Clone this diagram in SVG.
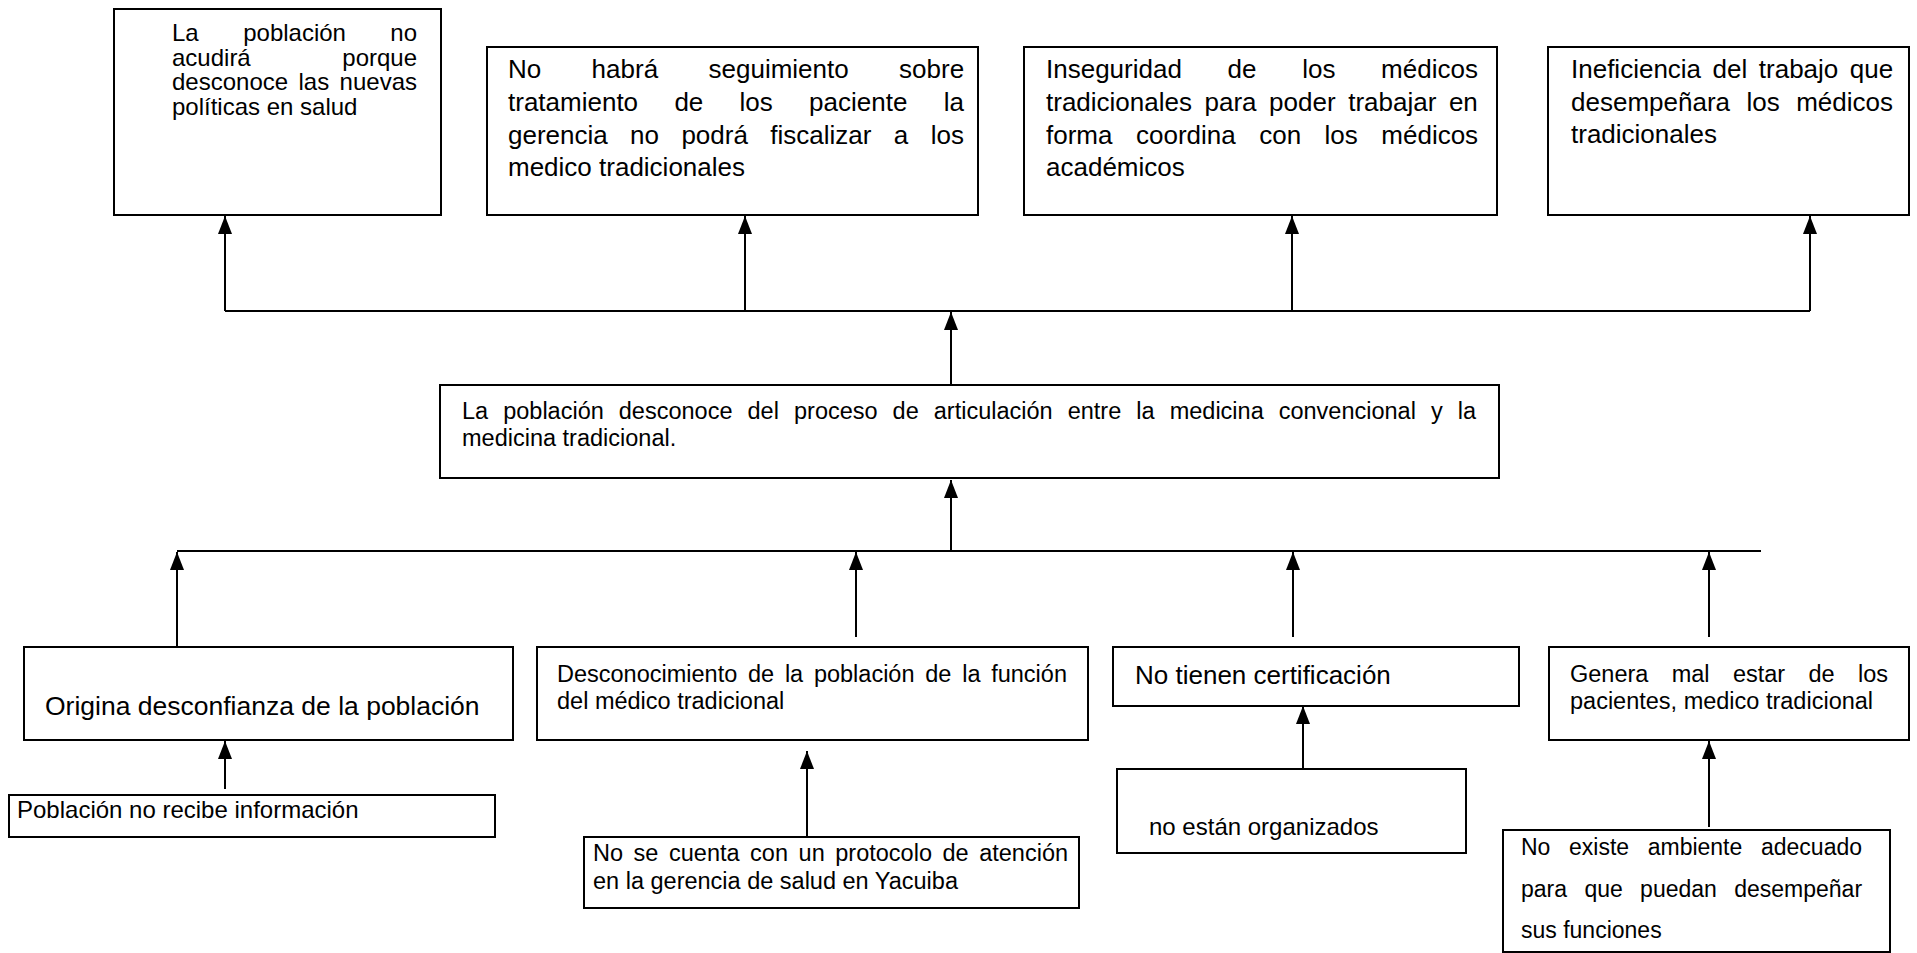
<svg xmlns="http://www.w3.org/2000/svg" width="1917" height="953" viewBox="0 0 1917 953">
<style>
.box{fill:#fff;stroke:#000;stroke-width:2}
.t{font-family:"Liberation Sans",Arial,sans-serif;fill:#000}
.c{fill:none;stroke:#000;stroke-width:2}
</style>
<defs>
<marker id="ah" viewBox="0 0 10 10" refX="10" refY="5" markerWidth="18" markerHeight="14" markerUnits="userSpaceOnUse" orient="auto" preserveAspectRatio="none">
<path d="M0,0 L10,5 L0,10 z" fill="#000"/>
</marker>
</defs>
<rect width="1917" height="953" fill="#fff"/>
<g id="connectors">
<path class="c" d="M225,311 H1810"/>
<path class="c" d="M225,311 V216" marker-end="url(#ah)"/>
<path class="c" d="M745,311 V216" marker-end="url(#ah)"/>
<path class="c" d="M1292,311 V216" marker-end="url(#ah)"/>
<path class="c" d="M1810,311 V216" marker-end="url(#ah)"/>
<path class="c" d="M951,385 V312" marker-end="url(#ah)"/>
<path class="c" d="M951,551 V480" marker-end="url(#ah)"/>
<path class="c" d="M177,551 H1761"/>
<path class="c" d="M177,647 V552" marker-end="url(#ah)"/>
<path class="c" d="M856,637 V552" marker-end="url(#ah)"/>
<path class="c" d="M1293,637 V552" marker-end="url(#ah)"/>
<path class="c" d="M1709,637 V552" marker-end="url(#ah)"/>
<path class="c" d="M225,789 V741" marker-end="url(#ah)"/>
<path class="c" d="M807,836 V751" marker-end="url(#ah)"/>
<path class="c" d="M1303,768 V706" marker-end="url(#ah)"/>
<path class="c" d="M1709,827 V741" marker-end="url(#ah)"/>
</g>
<g id="n1">
<rect class="box" x="114" y="9" width="327" height="206"/>
<text class="t" font-size="24" y="41"><tspan x="172">La</tspan><tspan x="243.2">población</tspan><tspan x="390.3">no</tspan></text>
<text class="t" font-size="24" y="65.5"><tspan x="172">acudirá</tspan><tspan x="342.3">porque</tspan></text>
<text class="t" font-size="24" y="90"><tspan x="172">desconoce</tspan><tspan x="298.5">las</tspan><tspan x="339.6">nuevas</tspan></text>
<text class="t" font-size="24" y="114.5" x="172">políticas en salud</text>
</g>
<g id="n2">
<rect class="box" x="487" y="47" width="491" height="168"/>
<text class="t" font-size="26" y="78"><tspan x="508">No</tspan><tspan x="591.6">habrá</tspan><tspan x="708.5">seguimiento</tspan><tspan x="899.1">sobre</tspan></text>
<text class="t" font-size="26" y="111"><tspan x="508">tratamiento</tspan><tspan x="674.4">de</tspan><tspan x="739.6">los</tspan><tspan x="809.1">paciente</tspan><tspan x="943.7">la</tspan></text>
<text class="t" font-size="26" y="144"><tspan x="508">gerencia</tspan><tspan x="630.1">no</tspan><tspan x="681.4">podrá</tspan><tspan x="770.3">fiscalizar</tspan><tspan x="893.8">a</tspan><tspan x="930.7">los</tspan></text>
<text class="t" font-size="26" y="176" x="508">medico tradicionales</text>
</g>
<g id="n3">
<rect class="box" x="1024" y="47" width="473" height="168"/>
<text class="t" font-size="26" y="78"><tspan x="1046">Inseguridad</tspan><tspan x="1227.6">de</tspan><tspan x="1302.2">los</tspan><tspan x="1381.1">médicos</tspan></text>
<text class="t" font-size="26" y="111"><tspan x="1046">tradicionales</tspan><tspan x="1204.5">para</tspan><tspan x="1269.1">poder</tspan><tspan x="1348.2">trabajar</tspan><tspan x="1448.9">en</tspan></text>
<text class="t" font-size="26" y="144"><tspan x="1046">forma</tspan><tspan x="1136">coordina</tspan><tspan x="1259.2">con</tspan><tspan x="1324.6">los</tspan><tspan x="1381.3">médicos</tspan></text>
<text class="t" font-size="26" y="176" x="1046">académicos</text>
</g>
<g id="n4">
<rect class="box" x="1548" y="47" width="361" height="168"/>
<text class="t" font-size="26" y="78"><tspan x="1571">Ineficiencia</tspan><tspan x="1712.6">del</tspan><tspan x="1758.8">trabajo</tspan><tspan x="1849.8">que</tspan></text>
<text class="t" font-size="26" y="111"><tspan x="1571">desempeñara</tspan><tspan x="1746.5">los</tspan><tspan x="1796.2">médicos</tspan></text>
<text class="t" font-size="26" y="143" x="1571">tradicionales</text>
</g>
<g id="n5">
<rect class="box" x="440" y="385" width="1059" height="93"/>
<text class="t" font-size="23.5" y="419"><tspan x="462">La</tspan><tspan x="503.2">población</tspan><tspan x="618.8">desconoce</tspan><tspan x="747.5">del</tspan><tspan x="794">proceso</tspan><tspan x="892.6">de</tspan><tspan x="933.8">articulación</tspan><tspan x="1067.7">entre</tspan><tspan x="1136.3">la</tspan><tspan x="1169.7">medicina</tspan><tspan x="1278.7">convencional</tspan><tspan x="1430.9">y</tspan><tspan x="1457.8">la</tspan></text>
<text class="t" font-size="23.5" y="446" x="462">medicina tradicional.</text>
</g>
<g id="n6">
<rect class="box" x="24" y="647" width="489" height="93"/>
<text class="t" font-size="26.5" y="715" x="45">Origina desconfianza de la población</text>
</g>
<g id="n7">
<rect class="box" x="537" y="647" width="551" height="93"/>
<text class="t" font-size="23.5" y="682"><tspan x="557">Desconocimiento</tspan><tspan x="748">de</tspan><tspan x="784.9">la</tspan><tspan x="813.9">población</tspan><tspan x="925.3">de</tspan><tspan x="962.2">la</tspan><tspan x="991.2">función</tspan></text>
<text class="t" font-size="23.5" y="709" x="557">del médico tradicional</text>
</g>
<g id="n8">
<rect class="box" x="1113" y="647" width="406" height="59"/>
<text class="t" font-size="26" y="684" x="1135">No tienen certificación</text>
</g>
<g id="n9">
<rect class="box" x="1549" y="647" width="360" height="93"/>
<text class="t" font-size="23.5" y="682"><tspan x="1570">Genera</tspan><tspan x="1671.7">mal</tspan><tspan x="1732.9">estar</tspan><tspan x="1808.5">de</tspan><tspan x="1858">los</tspan></text>
<text class="t" font-size="23.5" y="709" x="1570">pacientes, medico tradicional</text>
</g>
<g id="n10">
<rect class="box" x="9" y="795" width="486" height="42"/>
<text class="t" font-size="24" y="818" x="17">Población no recibe información</text>
</g>
<g id="n11">
<rect class="box" x="584" y="837" width="495" height="71"/>
<text class="t" font-size="23.5" y="861"><tspan x="593">No</tspan><tspan x="633.6">se</tspan><tspan x="669">cuenta</tspan><tspan x="750.1">con</tspan><tspan x="798.6">un</tspan><tspan x="835.3">protocolo</tspan><tspan x="942.5">de</tspan><tspan x="979.2">atención</tspan></text>
<text class="t" font-size="23.5" y="889" x="593">en la gerencia de salud en Yacuiba</text>
</g>
<g id="n12">
<rect class="box" x="1117" y="769" width="349" height="84"/>
<text class="t" font-size="24" y="835" x="1149">no están organizados</text>
</g>
<g id="n13">
<rect class="box" x="1503" y="830" width="387" height="122"/>
<text class="t" font-size="23" y="855"><tspan x="1521">No</tspan><tspan x="1569">existe</tspan><tspan x="1647.7">ambiente</tspan><tspan x="1761">adecuado</tspan></text>
<text class="t" font-size="23" y="897"><tspan x="1521">para</tspan><tspan x="1584.4">que</tspan><tspan x="1640.1">puedan</tspan><tspan x="1734.2">desempeñar</tspan></text>
<text class="t" font-size="23" y="938" x="1521">sus funciones</text>
</g>
</svg>
